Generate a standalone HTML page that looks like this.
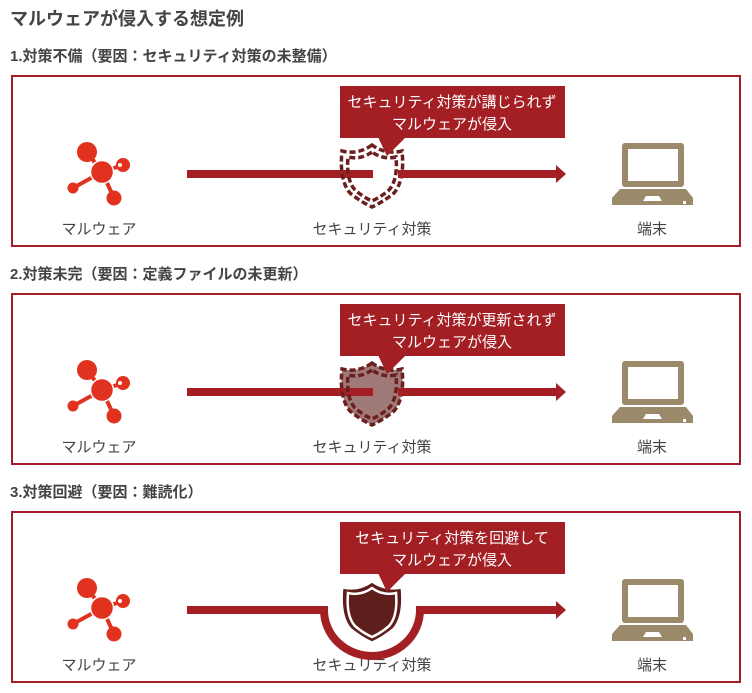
<!DOCTYPE html>
<html><head><meta charset="utf-8"><style>
body{margin:0;background:#fff;width:752px;height:693px;overflow:hidden}
svg{display:block}
text{font-family:"Liberation Sans","Noto Sans CJK JP",sans-serif}
</style></head><body>
<svg width="752" height="693" viewBox="0 0 752 693">
<defs>
<g id="mal">
 <line x1="87" y1="152" x2="102" y2="172" stroke="#e0321f" stroke-width="4"/>
 <line x1="102" y1="172" x2="123" y2="165" stroke="#e0321f" stroke-width="4"/>
 <line x1="102" y1="172" x2="73" y2="188" stroke="#e0321f" stroke-width="4"/>
 <line x1="102" y1="172" x2="114" y2="198" stroke="#e0321f" stroke-width="4"/>
 <circle cx="87" cy="152" r="10" fill="#e0321f"/>
 <circle cx="102" cy="172" r="11.5" fill="#e0321f" stroke="#fff" stroke-width="1.5"/>
 <circle cx="123" cy="165" r="7" fill="#e0321f"/>
 <circle cx="120" cy="165" r="2" fill="#fff"/>
 <circle cx="73" cy="188" r="5.5" fill="#e0321f"/>
 <circle cx="114" cy="198" r="7.5" fill="#e0321f"/>
</g>
<g id="pc">
 <rect x="622" y="143" width="62" height="44" rx="3" fill="#9a8a6a"/>
 <rect x="628" y="149" width="50" height="32" fill="#fff"/>
 <path d="M620 189 H686 L693 198 V205 H612 V198 Z" fill="#9a8a6a"/>
 <path d="M646 196 H659 L662 201 H643 Z" fill="#fff"/>
 <rect x="683" y="201" width="3" height="3" fill="#fff"/>
</g>
<g id="labels">
 <text x="99" y="234" font-size="15" fill="#444" text-anchor="middle">マルウェア</text>
 <text x="372" y="234" font-size="15" fill="#444" text-anchor="middle">セキュリティ対策</text>
 <text x="652" y="234" font-size="15" fill="#444" text-anchor="middle">端末</text>
</g>
<path id="shieldp" d="M372 145 Q358 155 342 151 Q339 180 350 193 Q361 202 372 207 Q383 202 394 193 Q405 180 402 151 Q386 155 372 145 Z"/>
<path id="shieldi" d="M372 152 Q361 160 348 157 Q346 180 355 190 Q363 197 372 201 Q381 197 389 190 Q398 180 396 157 Q383 160 372 152 Z"/>
</defs>

<text x="10" y="25" font-size="18" font-weight="bold" fill="#444">マルウェアが侵入する想定例</text>

<!-- Panel 1 -->
<text x="10" y="61" font-size="15" font-weight="bold" fill="#444">1.対策不備（要因：セキュリティ対策の未整備）</text>
<rect x="12" y="76" width="728" height="170" fill="none" stroke="#a31f24" stroke-width="2"/>
<use href="#mal"/><use href="#pc"/><use href="#labels"/>
<rect x="187" y="170" width="186" height="8" fill="#a31f24"/>
<g fill="none" stroke="#6b1f1f" stroke-width="3.5" stroke-dasharray="6 3">
 <use href="#shieldp"/>
 <use href="#shieldi"/>
</g>
<rect x="398" y="170" width="159" height="8" fill="#a31f24"/>
<path d="M556 165 L566 174 L556 183 Z" fill="#a31f24"/>
<rect x="340" y="86" width="225" height="52" fill="#a31f24"/>
<path d="M378 137 L406 137 L387 156 Z" fill="#a31f24"/>
<text x="452" y="107" font-size="15" fill="#fff" text-anchor="middle">セキュリティ対策が講じられず</text>
<text x="452" y="129" font-size="15" fill="#fff" text-anchor="middle">マルウェアが侵入</text>

<!-- Panel 2 -->
<g transform="translate(0,218)">
<text x="10" y="61" font-size="15" font-weight="bold" fill="#444">2.対策未完（要因：定義ファイルの未更新）</text>
<rect x="12" y="76" width="728" height="170" fill="none" stroke="#a31f24" stroke-width="2"/>
<use href="#mal"/><use href="#pc"/><use href="#labels"/>
<use href="#shieldp" fill="#a07a78"/>
<rect x="187" y="170" width="186" height="8" fill="#a31f24"/>
<g fill="none" stroke-dasharray="6 3">
 <use href="#shieldp" stroke="#6b1f1f" stroke-width="3.5"/>
 <use href="#shieldi" stroke="#6b1f1f" stroke-width="3.5"/>
</g>
<rect x="398" y="170" width="159" height="8" fill="#a31f24"/>
<path d="M556 165 L566 174 L556 183 Z" fill="#a31f24"/>
<rect x="340" y="86" width="225" height="52" fill="#a31f24"/>
<path d="M378 137 L406 137 L387 156 Z" fill="#a31f24"/>
<text x="452" y="107" font-size="15" fill="#fff" text-anchor="middle">セキュリティ対策が更新されず</text>
<text x="452" y="129" font-size="15" fill="#fff" text-anchor="middle">マルウェアが侵入</text>
</g>

<!-- Panel 3 -->
<g transform="translate(0,436)">
<text x="10" y="61" font-size="15" font-weight="bold" fill="#444">3.対策回避（要因：難読化）</text>
<rect x="12" y="76" width="728" height="170" fill="none" stroke="#a31f24" stroke-width="2"/>
<use href="#mal"/><use href="#pc"/><use href="#labels"/>
<path d="M187 174 H324 A48 46 0 0 0 420 174 H557" fill="none" stroke="#a31f24" stroke-width="8"/>
<path d="M556 165 L566 174 L556 183 Z" fill="#a31f24"/>
<use href="#shieldp" fill="#5e1f1c" stroke="#fff" stroke-width="3"/>
<use href="#shieldi" fill="none" stroke="#fff" stroke-width="2.5"/>
<rect x="340" y="86" width="225" height="52" fill="#a31f24"/>
<path d="M378 137 L406 137 L387 156 Z" fill="#a31f24"/>
<text x="452" y="107" font-size="15" fill="#fff" text-anchor="middle">セキュリティ対策を回避して</text>
<text x="452" y="129" font-size="15" fill="#fff" text-anchor="middle">マルウェアが侵入</text>
</g>
</svg>
</body></html>
